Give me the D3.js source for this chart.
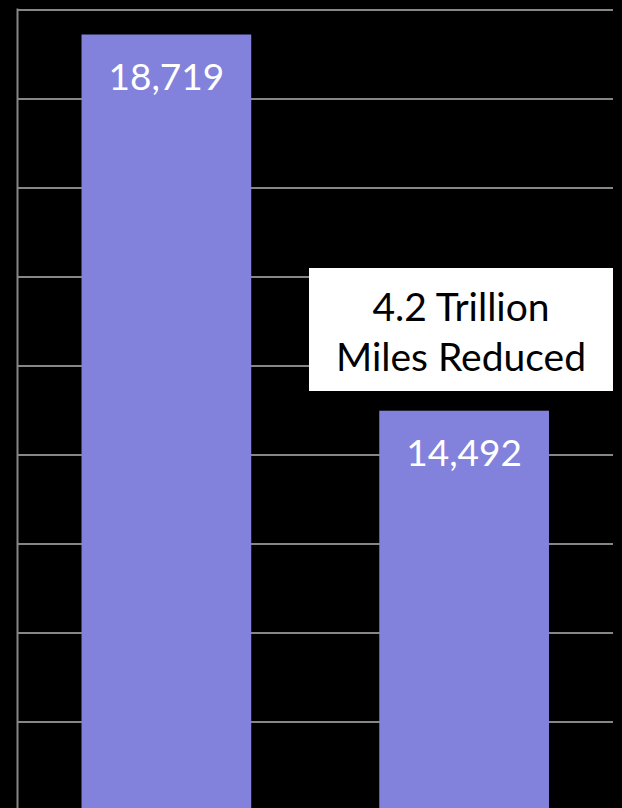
<!DOCTYPE html>
<html>
<head>
<meta charset="utf-8">
<script src="https://cdn.jsdelivr.net/npm/d3@7"></script>
<style>
  html, body { margin: 0; padding: 0; background: #000; }
  svg { display: block; }
</style>
</head>
<body>
<script>
// Data
const categories = ["Before", "After"];
const values = [18719, 14492];
const valueLabels = ["18,719", "14,492"];
const tickValues = [10000, 11000, 12000, 13000, 14000, 15000, 16000, 17000, 18000, 19000];
const annotationLines = ["4.2 Trillion", "Miles Reduced"];

const W = 622, H = 808;
const left = 17.5, right = 613;
const svg = d3.select("body").append("svg").attr("width", W).attr("height", H);
svg.append("rect").attr("width", W).attr("height", H).attr("fill", "#000");

const y = d3.scaleLinear().domain([10000, 19000]).range([810.5, 9.5]);
const x = d3.scaleBand().domain(categories).range([left, right]).paddingInner(0.43).paddingOuter(0.215);

// gridlines via axis
const grid = svg.append("g").attr("transform", `translate(${left},0)`)
  .call(d3.axisLeft(y).tickValues(tickValues).tickSize(-(right - left)).tickFormat(""));
grid.select(".domain").remove();
grid.selectAll(".tick line").attr("stroke", "#868686").attr("stroke-width", 2);

// axis line
svg.append("line").attr("x1", left).attr("x2", left).attr("y1", y(19000) - 1).attr("y2", H)
  .attr("stroke", "#868686").attr("stroke-width", 2);

// bars
svg.selectAll(".bar").data(values).join("rect")
  .attr("x", (d, i) => x(categories[i]))
  .attr("width", x.bandwidth())
  .attr("y", d => y(d))
  .attr("height", d => y(10000) - y(d))
  .attr("fill", "#8282dc");

// value labels
svg.selectAll(".vl").data(values).join("text")
  .attr("x", (d, i) => x(categories[i]) + x.bandwidth() / 2)
  .attr("y", d => y(d) + 55)
  .attr("text-anchor", "middle")
  .attr("fill", "#fff")
  .attr("font-family", "Lato, 'Open Sans', sans-serif")
  .attr("font-size", 37)
  .text((d, i) => valueLabels[i]);

// annotation box
svg.append("rect").attr("x", 309).attr("y", 268).attr("width", 304).attr("height", 123).attr("fill", "#fff");
svg.selectAll(".ann").data(annotationLines).join("text")
  .attr("x", 461)
  .attr("y", (d, i) => 321 + i * 49.5)
  .attr("text-anchor", "middle")
  .attr("fill", "#000")
  .attr("font-family", "Lato, 'Open Sans', sans-serif")
  .attr("font-size", 39)
  .text(d => d);
</script>
</body>
</html>
